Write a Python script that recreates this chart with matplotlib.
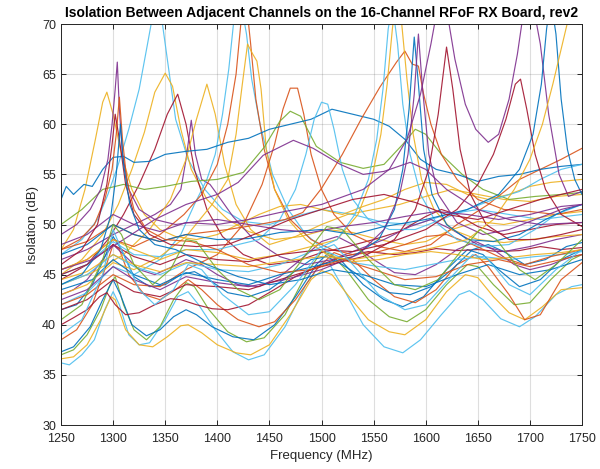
import matplotlib
matplotlib.use("Agg")
import matplotlib.pyplot as plt

# MATLAB default color order
B = '#0072BD'
O = '#D95319'
Y = '#EDB120'
P = '#7E2F8E'
G = '#77AC30'
C = '#4DBEEE'
R = '#A2142F'

# (frequency MHz, isolation dB), one list per trace
tr01 = [(1250,36.2),(1258,36.0),(1270,37.0),(1282,38.5),(1292,41.5),(1300,43.3),(1306,42.0),(1315,39.0),(1325,38.0),(1335,38.2),(1350,40.5),(1362,42.8),(1372,43.3),(1382,42.0),(1398,39.5),(1415,37.3),(1430,36.5),(1445,37.0),(1465,39.8),(1485,44.0),(1500,46.2),(1508,46.0),(1520,43.8),(1540,40.0),(1560,37.8),(1578,37.2),(1595,38.5),(1615,41.0),(1632,43.0),(1642,43.4),(1655,42.5),(1672,40.6),(1690,39.8),(1705,40.8),(1725,43.0),(1740,43.8),(1750,44.0)]
tr02 = [(1250,36.6),(1262,36.8),(1275,38.0),(1288,40.5),(1298,42.8),(1302,42.5),(1312,39.5),(1325,38.0),(1338,37.8),(1352,38.8),(1365,39.9),(1372,40.0),(1385,39.2),(1400,38.0),(1418,37.2),(1432,37.0),(1450,38.0),(1470,41.0),(1490,44.5),(1500,45.4),(1510,45.0),(1525,43.0),(1545,40.5),(1565,39.3),(1580,39.0),(1600,40.5),(1620,43.3),(1638,45.0),(1650,44.7),(1665,42.8),(1680,41.2),(1695,40.5),(1712,41.8),(1730,43.5),(1750,43.7)]
tr03 = [(1250,37.0),(1262,37.5),(1275,39.0),(1288,41.5),(1297,44.0),(1302,44.8),(1310,42.0),(1320,39.5),(1332,38.5),(1345,39.8),(1358,42.5),(1370,44.2),(1378,43.8),(1392,41.5),(1410,39.3),(1428,38.3),(1445,38.7),(1465,41.0),(1485,45.0),(1500,47.3),(1510,47.0),(1525,45.3),(1545,42.5),(1565,40.8),(1582,40.3),(1600,41.5),(1620,44.0),(1640,46.0),(1650,45.8),(1665,44.0),(1685,42.0),(1700,42.2),(1720,44.5),(1740,46.5),(1750,47.0)]
tr04 = [(1250,37.3),(1262,37.8),(1278,39.8),(1290,42.5),(1300,44.5),(1307,43.0),(1318,40.0),(1332,38.9),(1345,39.5),(1358,40.8),(1370,41.5),(1380,41.0),(1395,39.8),(1415,38.8),(1435,38.5),(1455,40.0),(1475,42.8),(1495,46.0),(1505,47.0),(1518,46.5),(1540,44.0),(1560,42.5),(1578,41.8),(1598,42.8),(1620,45.5),(1640,47.5),(1655,47.0),(1670,45.5),(1690,43.8),(1710,44.5),(1730,46.5),(1750,47.5)]
tr05 = [(1250,38.5),(1265,39.5),(1280,42.0),(1292,45.5),(1300,48.0),(1306,47.5),(1315,45.0),(1330,43.0),(1345,42.5),(1360,43.5),(1372,44.5),(1385,43.5),(1400,42.0),(1420,40.5),(1440,39.8),(1455,40.3),(1475,42.5),(1495,45.5),(1512,47.2),(1530,46.5),(1550,44.5),(1570,42.8),(1590,42.2),(1610,43.5),(1630,46.0),(1648,47.0),(1660,45.8),(1680,43.0),(1695,40.5),(1710,41.0),(1730,44.5),(1750,46.2)]
tr06 = [(1250,40.0),(1262,40.7),(1275,41.5),(1287,42.8),(1294,43.2),(1302,42.0),(1312,41.0),(1325,41.2),(1340,42.0),(1355,42.6),(1365,42.5),(1380,42.0),(1395,41.6),(1410,41.5),(1430,42.0),(1453,43.4),(1475,44.8),(1500,46.0),(1520,46.8),(1545,47.3),(1570,47.0),(1590,47.2),(1610,47.6),(1630,47.4),(1650,47.5),(1670,47.3),(1690,47.4),(1710,47.8),(1730,47.5),(1750,47.7)]
tr07 = [(1250,43.0),(1262,43.5),(1275,44.5),(1290,46.5),(1300,48.0),(1310,47.0),(1325,45.5),(1340,45.0),(1355,45.7),(1370,46.5),(1385,46.0),(1400,45.0),(1420,44.0),(1440,43.8),(1460,44.8),(1480,46.5),(1500,48.3),(1515,48.8),(1530,48.0),(1550,46.5),(1570,45.2),(1590,45.0),(1610,46.0),(1630,47.5),(1648,48.3),(1665,47.5),(1685,46.0),(1700,45.5),(1720,46.0),(1740,46.8),(1750,47.0)]
tr08 = [(1250,41.5),(1265,42.0),(1280,44.0),(1293,47.0),(1300,48.8),(1308,47.5),(1320,44.8),(1335,43.8),(1350,44.0),(1365,45.0),(1378,45.3),(1392,44.5),(1410,43.2),(1430,42.8),(1450,43.5),(1470,45.0),(1490,46.5),(1505,46.8),(1520,46.0),(1545,44.3),(1565,43.2),(1585,43.0),(1605,43.8),(1625,45.5),(1645,47.5),(1660,48.0),(1675,47.3),(1695,46.0),(1715,46.5),(1735,47.8),(1750,48.2)]
tr09 = [(1250,47.0),(1270,48.5),(1285,50.5),(1295,53.0),(1305,56.0),(1315,59.5),(1325,63.5),(1333,68.0),(1340,72.0),(1346,71.0),(1352,66.5),(1360,60.5),(1372,56.5),(1388,53.5),(1405,51.5),(1425,50.3),(1450,50.0),(1475,50.8),(1500,51.5),(1530,51.0),(1560,50.2),(1590,50.0),(1620,51.0),(1650,51.5),(1680,51.0),(1710,50.5),(1750,51.0)]
tr10 = [(1250,47.5),(1262,49.5),(1273,53.5),(1283,58.5),(1290,62.2),(1294,63.2),(1300,61.0),(1308,57.0),(1318,53.5),(1330,51.0),(1345,49.5),(1360,48.8),(1380,48.5),(1400,49.0),(1420,50.0),(1440,51.0),(1460,51.8),(1480,52.0),(1500,51.5),(1520,51.0),(1540,51.8),(1560,52.5),(1580,53.5),(1600,54.2),(1620,54.0),(1640,53.0),(1660,52.5),(1680,53.0),(1700,53.8),(1720,54.2),(1750,54.5)]
tr11 = [(1250,45.0),(1270,46.5),(1290,49.0),(1305,52.0),(1318,55.5),(1330,59.2),(1340,63.2),(1350,65.1),(1357,63.8),(1365,59.5),(1375,55.5),(1390,52.5),(1410,50.5),(1430,49.3),(1455,48.5),(1480,48.8),(1505,49.5),(1530,49.2),(1555,48.5),(1580,48.0),(1600,48.3),(1625,49.5),(1650,50.3),(1675,50.0),(1700,50.5),(1725,51.0),(1750,51.3)]
tr12 = [(1250,44.5),(1275,46.0),(1295,48.5),(1310,51.0),(1325,54.0),(1340,57.5),(1352,61.0),(1362,63.0),(1370,60.0),(1378,55.5),(1390,51.5),(1405,48.8),(1425,47.0),(1450,46.0),(1475,46.3),(1500,47.2),(1525,47.8),(1550,48.5),(1575,49.3),(1600,50.8),(1615,51.5),(1630,51.0),(1650,49.8),(1675,49.0),(1700,49.5),(1725,50.0),(1750,50.2)]
tr13 = [(1250,46.5),(1275,47.5),(1300,49.0),(1320,50.0),(1340,51.0),(1355,52.0),(1365,53.5),(1370,56.5),(1375,60.4),(1379,57.0),(1385,54.5),(1393,54.0),(1400,53.0),(1415,50.8),(1435,48.5),(1460,46.8),(1485,46.0),(1510,46.5),(1535,47.5),(1560,48.5),(1585,49.8),(1605,50.5),(1625,49.5),(1650,48.0),(1675,47.3),(1700,47.8),(1725,48.5),(1750,49.0)]
tr14 = [(1250,44.0),(1280,45.2),(1310,47.0),(1335,49.5),(1355,52.5),(1370,56.5),(1380,60.5),(1390,64.0),(1398,61.0),(1407,56.0),(1418,52.0),(1432,49.5),(1450,48.0),(1475,48.8),(1500,50.0),(1525,51.0),(1550,51.5),(1575,52.0),(1600,52.8),(1625,53.5),(1650,53.0),(1675,52.5),(1700,52.3),(1725,52.8),(1750,53.0)]
tr15 = [(1250,42.0),(1275,43.2),(1300,45.8),(1320,45.0),(1345,46.5),(1365,49.0),(1378,52.0),(1390,54.5),(1398,57.0),(1405,61.0),(1411,65.5),(1416,70.5),(1422,72.5),(1428,69.0),(1433,64.5),(1441,60.0),(1453,55.0),(1468,51.5),(1485,49.0),(1505,47.3),(1530,46.2),(1555,45.8),(1580,45.5),(1605,46.0),(1630,46.5),(1655,46.8),(1680,46.5),(1705,46.8),(1730,47.0),(1750,47.3)]
tr16 = [(1250,45.5),(1275,46.5),(1300,48.5),(1320,47.8),(1345,49.0),(1368,51.0),(1385,53.0),(1400,56.0),(1410,60.0),(1418,65.0),(1423,70.5),(1428,72.0),(1432,68.0),(1437,62.5),(1445,57.5),(1455,53.5),(1470,50.5),(1490,48.5),(1510,47.5),(1530,47.0),(1555,47.3),(1580,48.0),(1600,48.8),(1620,49.0),(1645,48.0),(1670,46.8),(1695,46.0),(1720,46.8),(1750,47.5)]
tr17 = [(1250,43.0),(1275,44.0),(1300,46.2),(1320,45.5),(1345,46.8),(1370,48.8),(1395,52.0),(1410,54.5),(1418,59.0),(1424,64.0),(1429,68.0),(1434,67.0),(1438,66.3),(1442,63.5),(1447,57.5),(1455,53.5),(1468,50.5),(1485,48.5),(1505,47.0),(1530,46.3),(1555,46.5),(1580,47.0),(1605,47.3),(1630,47.0),(1655,46.5),(1680,46.7),(1705,47.0),(1730,47.2),(1750,47.5)]
tr18 = [(1250,42.0),(1275,43.0),(1300,45.0),(1320,44.0),(1345,43.8),(1370,45.5),(1400,47.0),(1425,50.0),(1443,54.0),(1455,58.0),(1463,61.5),(1470,63.6),(1477,63.6),(1483,61.0),(1490,57.0),(1500,53.5),(1512,51.0),(1530,49.0),(1555,47.8),(1580,47.3),(1605,48.0),(1630,50.0),(1660,52.0),(1690,54.5),(1710,55.5),(1730,56.5),(1750,57.6)]
tr19 = [(1250,50.0),(1270,51.5),(1290,53.5),(1310,54.0),(1330,53.5),(1350,53.8),(1375,54.3),(1400,54.5),(1425,55.2),(1445,57.7),(1460,60.3),(1470,61.3),(1480,60.8),(1495,57.8),(1518,56.2),(1540,55.6),(1560,56.0),(1578,58.0),(1590,59.5),(1600,59.0),(1615,57.0),(1635,55.0),(1655,53.5),(1680,52.5),(1705,52.8),(1730,53.0),(1750,53.2)]
tr20 = [(1250,52.5),(1255,53.8),(1262,53.0),(1272,54.0),(1280,53.8),(1290,55.5),(1300,56.7),(1310,56.8),(1320,56.2),(1335,56.3),(1350,57.0),(1370,57.3),(1390,57.5),(1410,58.2),(1430,58.6),(1450,59.5),(1470,60.0),(1490,60.5),(1510,61.5),(1530,61.0),(1550,60.5),(1565,59.8),(1580,58.5),(1595,56.5),(1610,55.5),(1630,55.0),(1650,54.3),(1670,54.8),(1690,55.0),(1710,55.5),(1730,55.8),(1750,56.0)]
tr21 = [(1250,45.0),(1275,46.0),(1300,48.3),(1320,47.0),(1345,46.8),(1370,47.5),(1400,47.5),(1440,48.5),(1460,50.5),(1475,53.5),(1485,57.0),(1493,60.5),(1500,62.2),(1506,62.0),(1512,59.5),(1520,55.5),(1530,52.5),(1545,50.5),(1565,49.5),(1590,49.5),(1615,50.5),(1640,51.5),(1665,52.5),(1690,53.3),(1710,54.5),(1730,55.5),(1750,56.0)]
tr22 = [(1250,47.5),(1275,48.3),(1300,50.0),(1320,49.0),(1345,48.3),(1370,49.0),(1410,49.5),(1440,50.0),(1465,50.5),(1482,51.2),(1500,53.6),(1520,57.0),(1538,60.5),(1556,63.7),(1572,66.2),(1580,67.3),(1587,66.0),(1593,65.8),(1598,63.0),(1605,60.0),(1615,57.0),(1630,54.5),(1650,52.5),(1675,51.5),(1700,51.3),(1725,51.0),(1750,51.5)]
tr23 = [(1250,45.5),(1275,46.5),(1300,48.5),(1320,47.5),(1345,46.5),(1370,47.5),(1400,47.2),(1430,46.5),(1460,47.0),(1490,47.8),(1515,48.5),(1535,51.0),(1548,54.5),(1557,59.0),(1563,64.0),(1568,69.5),(1572,73.0),(1577,70.0),(1582,64.5),(1588,59.0),(1596,54.5),(1608,51.5),(1625,49.5),(1650,48.5),(1675,48.2),(1700,48.5),(1725,48.8),(1750,49.0)]
tr24 = [(1250,44.0),(1275,45.0),(1300,47.0),(1320,45.8),(1345,45.0),(1372,46.2),(1400,45.5),(1430,45.3),(1460,46.0),(1490,47.3),(1515,48.5),(1532,51.0),(1545,54.5),(1553,58.5),(1559,63.5),(1564,69.5),(1568,72.0),(1573,68.0),(1578,62.0),(1585,57.0),(1595,53.0),(1610,50.2),(1630,48.5),(1655,47.8),(1680,48.0),(1705,49.5),(1725,51.0),(1750,52.0)]
tr25 = [(1250,43.5),(1280,44.5),(1300,46.5),(1320,45.0),(1345,44.0),(1370,45.2),(1400,44.5),(1430,44.0),(1460,45.0),(1500,46.0),(1530,46.8),(1555,48.5),(1570,51.5),(1578,55.5),(1584,61.5),(1589,68.7),(1593,64.0),(1598,57.5),(1606,53.0),(1620,50.0),(1640,48.5),(1665,48.3),(1690,49.0),(1715,50.5),(1735,51.5),(1750,52.0)]
tr26 = [(1250,42.5),(1275,43.5),(1300,45.8),(1320,44.5),(1345,43.5),(1370,44.8),(1400,44.2),(1430,43.8),(1465,44.5),(1500,45.5),(1535,47.0),(1560,49.5),(1575,53.0),(1583,57.0),(1589,63.0),(1593,69.0),(1597,63.5),(1603,57.0),(1612,53.0),(1630,50.2),(1655,49.0),(1680,49.5),(1705,50.5),(1730,51.5),(1750,52.0)]
tr27 = [(1250,41.5),(1275,42.5),(1300,44.5),(1320,43.3),(1345,42.8),(1370,44.0),(1400,43.8),(1430,43.5),(1460,44.5),(1500,45.8),(1540,46.8),(1570,48.5),(1590,51.5),(1603,55.5),(1612,61.0),(1620,67.7),(1626,63.5),(1633,57.5),(1643,53.0),(1658,50.0),(1680,48.5),(1705,48.5),(1730,49.0),(1750,49.5)]
tr28 = [(1250,48.0),(1275,49.0),(1300,51.0),(1320,50.0),(1345,49.3),(1370,50.2),(1400,50.0),(1430,50.5),(1460,51.2),(1500,52.0),(1540,53.5),(1565,55.5),(1582,58.5),(1595,63.0),(1605,68.0),(1612,72.0),(1620,71.5),(1628,66.5),(1638,62.0),(1648,59.5),(1660,58.2),(1670,59.0),(1680,62.5),(1688,67.0),(1695,72.0),(1702,72.5),(1710,68.0),(1718,61.0),(1728,55.0),(1737,52.8),(1750,53.3)]
tr29 = [(1250,45.0),(1275,46.0),(1300,48.0),(1320,46.8),(1345,46.0),(1370,47.0),(1400,46.5),(1430,46.3),(1460,47.0),(1500,47.5),(1530,47.3),(1560,48.0),(1600,49.5),(1630,51.5),(1650,54.0),(1665,57.0),(1677,60.5),(1686,64.0),(1691,64.5),(1697,61.5),(1705,57.0),(1715,53.5),(1730,51.0),(1750,49.8)]
tr30 = [(1250,47.0),(1275,48.0),(1300,50.0),(1320,49.0),(1345,48.3),(1370,49.0),(1400,48.5),(1430,48.6),(1460,49.2),(1500,49.5),(1530,49.0),(1560,49.8),(1600,50.5),(1640,51.5),(1670,53.0),(1690,55.5),(1703,59.0),(1711,64.0),(1716,69.5),(1720,72.5),(1725,69.0),(1730,62.5),(1736,57.5),(1743,54.5),(1750,53.0)]
tr31 = [(1250,44.5),(1275,45.3),(1300,47.0),(1320,46.0),(1345,45.3),(1370,46.2),(1400,46.0),(1430,45.8),(1460,46.3),(1500,46.8),(1530,46.5),(1560,47.0),(1600,47.5),(1640,48.5),(1665,50.5),(1685,53.5),(1700,56.5),(1712,60.0),(1722,64.0),(1730,67.5),(1738,71.0),(1745,72.5),(1750,72.0)]
tr32 = [(1250,49.0),(1265,50.0),(1278,51.5),(1288,53.5),(1295,56.5),(1299,60.0),(1302,63.5),(1304,66.2),(1306,61.5),(1309,57.0),(1315,53.5),(1325,51.5),(1340,50.5),(1360,50.0),(1380,50.3),(1400,50.5),(1430,50.0),(1460,49.5),(1490,49.2),(1520,49.8),(1550,50.2),(1580,50.8),(1610,51.3),(1640,51.0),(1670,50.5),(1700,51.0),(1730,51.8),(1750,52.0)]
tr33 = [(1250,47.5),(1268,48.5),(1282,50.0),(1292,52.5),(1299,55.5),(1303,59.0),(1306,62.7),(1309,58.5),(1313,54.5),(1320,51.5),(1332,49.5),(1350,48.5),(1375,48.3),(1400,47.5),(1430,46.0),(1460,45.2),(1490,45.5),(1520,46.5),(1550,45.5),(1580,44.5),(1610,44.8),(1640,46.0),(1670,46.5),(1700,45.8),(1730,46.5),(1750,47.0)]
tr34 = [(1250,46.0),(1270,47.5),(1285,50.0),(1294,54.0),(1299,58.0),(1302,61.0),(1306,58.5),(1312,54.0),(1320,51.0),(1335,49.0),(1355,48.0),(1380,47.8),(1410,48.0),(1440,49.2),(1470,50.5),(1500,51.5),(1530,52.5),(1560,53.0),(1590,52.2),(1620,51.0),(1650,50.5),(1680,51.5),(1710,52.5),(1750,53.5)]
tr35 = [(1250,44.0),(1270,45.0),(1288,47.5),(1298,51.0),(1303,55.0),(1307,60.0),(1310,56.0),(1316,52.0),(1325,49.5),(1340,48.0),(1360,47.5),(1390,46.0),(1420,44.8),(1450,44.0),(1480,44.5),(1510,45.5),(1540,45.0),(1570,44.0),(1600,43.8),(1630,45.0),(1660,46.0),(1690,45.0),(1720,45.5),(1750,46.5)]
tr36 = [(1250,45.5),(1280,46.5),(1310,48.5),(1340,50.5),(1370,52.0),(1400,53.0),(1420,54.2),(1444,56.9),(1473,58.4),(1492,57.6),(1518,56.0),(1540,55.0),(1560,55.3),(1585,56.2),(1600,55.5),(1620,53.5),(1650,51.5),(1680,50.5),(1710,50.0),(1750,50.2)]
tr37 = [(1250,40.5),(1270,42.0),(1290,46.5),(1300,50.0),(1308,49.0),(1320,46.0),(1338,44.0),(1355,45.5),(1370,48.5),(1380,48.3),(1400,45.5),(1420,43.5),(1440,42.5),(1460,43.5),(1485,47.0),(1505,49.8),(1520,49.5),(1545,46.5),(1570,44.0),(1590,43.5),(1612,44.5),(1635,47.5),(1652,49.5),(1668,48.5),(1690,45.5),(1705,44.5),(1725,46.0),(1750,48.5)]
tr38 = [(1250,39.0),(1270,40.5),(1290,45.0),(1300,49.5),(1310,47.0),(1325,43.5),(1340,42.0),(1358,43.5),(1372,46.0),(1385,45.5),(1405,43.0),(1430,41.0),(1450,41.3),(1475,44.0),(1500,47.5),(1512,48.0),(1530,46.0),(1555,43.0),(1580,41.5),(1600,42.0),(1622,44.5),(1645,47.0),(1660,46.5),(1680,44.0),(1700,43.0),(1725,45.5),(1750,47.5)]

traces = [
    (tr01, C), (tr02, Y), (tr03, G), (tr04, B), (tr05, O), (tr06, R), (tr07, P),
    (tr08, B), (tr09, C), (tr10, Y), (tr11, Y), (tr12, R), (tr13, P), (tr14, Y),
    (tr15, C), (tr16, O), (tr17, Y), (tr18, O), (tr19, G), (tr20, B), (tr21, C),
    (tr22, O), (tr23, Y), (tr24, C), (tr25, B), (tr26, P), (tr27, R), (tr28, P),
    (tr29, R), (tr30, B), (tr31, Y), (tr32, P), (tr33, O), (tr34, R), (tr35, B),
    (tr36, P), (tr37, G), (tr38, C),
]

plt.rcParams['font.family'] = ['Liberation Sans', 'DejaVu Sans']

fig = plt.figure(figsize=(6.0, 4.69), dpi=100)
ax = fig.add_axes([0.1017, 0.0938, 0.8683, 0.855])

for pts, col in traces:
    f = [p[0] for p in pts]
    d = [p[1] for p in pts]
    ax.plot(f, d, color=col, linewidth=0.85, alpha=0.9)

ax.set_xlim(1250, 1750)
ax.set_ylim(30, 70)
ax.set_xticks(range(1250, 1751, 50))
ax.set_yticks(range(30, 71, 5))
ax.grid(True, color='#262626', alpha=0.15, linewidth=0.8)
ax.tick_params(direction='in', top=True, right=True, labelsize=9, colors='#262626',
               length=3.5, width=0.7)
ax.tick_params(axis='x', pad=6)
for s in ax.spines.values():
    s.set_color('#262626')
    s.set_linewidth(0.7)

ax.set_xlabel('Frequency (MHz)', fontsize=9.5, color='#262626', labelpad=3)
ax.set_ylabel('Isolation (dB)', fontsize=9.5, color='#262626', labelpad=2)
ax.set_title('Isolation Between Adjacent Channels on the 16-Channel RFoF RX Board, rev2',
             fontsize=10, fontweight='bold', pad=5)

fig.savefig('out.png', dpi=100)
